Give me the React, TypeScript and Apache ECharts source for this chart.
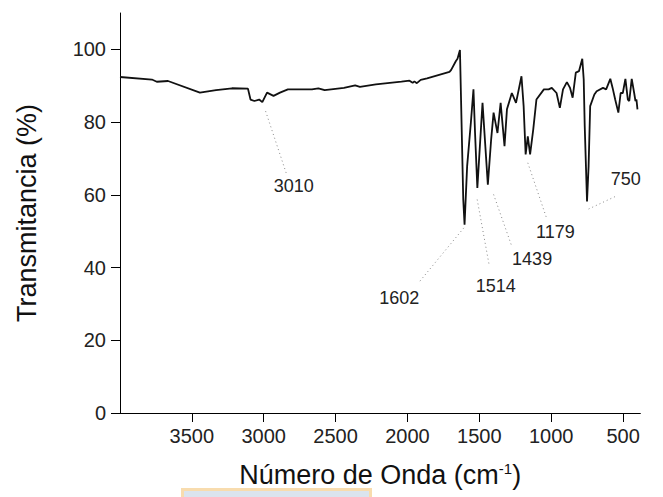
import React, { useEffect, useRef } from "react";
import * as echarts from "echarts";

// Wavenumber (cm-1) and transmittance (%)
const wavenumbers = [
  4000, 3778, 3744, 3666, 3444, 3332, 3221, 3110, 3092, 3065, 3032, 3010, 2977, 2932, 2887, 2832,
  2665, 2620, 2576, 2442, 2364, 2331, 2220, 2042, 1986, 1964, 1952, 1935, 1908, 1864, 1708, 1697,
  1663, 1652, 1635, 1612, 1603, 1585, 1559, 1541, 1530, 1514, 1478, 1441, 1418, 1401, 1381, 1374,
  1352, 1325, 1308, 1274, 1245, 1207, 1192, 1178, 1163, 1147, 1125, 1103, 1051, 1018, 996, 963,
  940, 918, 891, 869, 851, 829, 807, 784, 774, 767, 751, 740, 729, 700, 684, 640,
  618, 589, 573, 555, 533, 517, 502, 484, 467, 457, 440, 423, 414, 407, 400,
];
const transmittance = [
  92.4, 91.7, 91.1, 91.3, 88.1, 88.8, 89.3, 89.2, 86.2, 85.8, 86.2, 85.5, 88.1, 87.2, 88.1, 89.0,
  89.0, 89.3, 88.8, 89.4, 90.1, 89.7, 90.4, 91.1, 91.4, 90.8, 91.2, 90.7, 91.6, 92.0, 93.8, 94.3,
  96.8, 97.4, 99.8, 58.7, 51.8, 67.9, 79.9, 89.0, 77.0, 61.9, 85.3, 62.8, 75.2, 82.6, 78.4, 77.0,
  85.3, 73.4, 83.5, 88.0, 85.3, 92.6, 84.4, 71.1, 76.1, 71.1, 78.0, 86.2, 89.0, 89.0, 89.4, 88.0,
  83.9, 89.0, 91.0, 89.4, 86.7, 93.6, 94.0, 97.4, 91.7, 78.9, 58.2, 67.9, 84.4, 87.6, 88.5, 89.4,
  89.0, 91.9, 89.4, 86.2, 82.6, 88.0, 88.0, 91.9, 86.2, 85.8, 91.9, 88.0, 85.8, 86.2, 83.5,
];

const xTicks = [3500, 3000, 2500, 2000, 1500, 1000, 500];
const yTicks = [0, 20, 40, 60, 80, 100];

// Peak annotations: label, dotted leader start / end, text anchor (data coords)
const peakLabels = ["3010", "1602", "1514", "1439", "1179", "750"];
const peakFrom = [[2987, 83.0], [1608, 50.9], [1515, 58.7], [1401, 60.1], [1163, 68.8], [740, 56.1]];
const peakTo = [[2838, 65.3], [1917, 36.1], [1430, 40.3], [1274, 45.8], [1029, 53.2], [540, 59.8]];
const peakText = [[2792, 62.3], [2057, 31.7], [1386, 34.8], [1133, 42.3], [971, 49.9], [482, 64.4]];

const FONT = "'Liberation Sans', Arial, sans-serif";

export default function App() {
  const ref = useRef<HTMLDivElement>(null);

  useEffect(() => {
    document.body.style.margin = "0";
    if (!ref.current) return;
    const chart = echarts.init(ref.current, null, { renderer: "svg" });

    const spectrum = wavenumbers.map((w, i) => [w, transmittance[i]]);
    const leaders = peakLabels.map((_, i) => [
      { coord: peakFrom[i] },
      { coord: peakTo[i] },
    ]);
    const texts = peakLabels.map((l, i) => ({ name: l, value: peakText[i] }));

    chart.setOption({
      animation: false,
      backgroundColor: "#ffffff",
      textStyle: { fontFamily: FONT },
      grid: { left: 120, right: 1, top: 13, bottom: 84 },
      xAxis: {
        type: "value",
        inverse: true,
        min: 380,
        max: 4000,
        splitLine: { show: false },
        axisLine: { show: true, lineStyle: { color: "#000", width: 1 } },
        axisTick: { show: true, length: 9, customValues: xTicks, lineStyle: { color: "#000" } },
        axisLabel: {
          customValues: xTicks,
          fontSize: 20,
          color: "#222",
          margin: 13,
          fontFamily: FONT,
          formatter: (v: number) => String(v),
        },
        name: "Número de Onda (cm{sup|-1})",
        nameLocation: "middle",
        nameGap: 48,
        nameTextStyle: {
          fontSize: 27,
          color: "#111",
          fontFamily: FONT,
          rich: { sup: { fontSize: 15, verticalAlign: "top", lineHeight: 14, color: "#111", fontFamily: FONT } },
        },
      },
      yAxis: {
        type: "value",
        min: 0,
        max: 110,
        splitLine: { show: false },
        axisLine: { show: true, lineStyle: { color: "#000", width: 1 } },
        axisTick: { show: true, length: 9, customValues: yTicks, lineStyle: { color: "#000" } },
        axisLabel: {
          customValues: yTicks,
          fontSize: 20,
          color: "#222",
          margin: 14,
          fontFamily: FONT,
          formatter: (v: number) => String(v),
        },
        name: "Transmitancia (%)",
        nameLocation: "middle",
        nameGap: 80,
        nameTextStyle: { fontSize: 27, color: "#111", fontFamily: FONT },
      },
      graphic: [
        {
          type: "rect",
          left: 181,
          top: 488,
          shape: { width: 188, height: 14 },
          style: { fill: "#dbe4ee", stroke: "#f8dcae", lineWidth: 3 },
          silent: true,
        },
      ],
      series: [
        {
          type: "line",
          data: spectrum,
          showSymbol: false,
          symbol: "none",
          lineStyle: { color: "#111", width: 1.8 },
          silent: true,
          markLine: {
            silent: true,
            symbol: ["none", "none"],
            label: { show: false },
            lineStyle: { color: "#888", width: 1, type: [1, 3] },
            data: leaders,
          },
        },
        {
          type: "scatter",
          data: texts,
          symbol: "circle",
          symbolSize: 1,
          itemStyle: { color: "#ffffff", opacity: 1 },
          silent: true,
          label: {
            show: true,
            position: "inside",
            formatter: "{b}",
            fontSize: 18,
            color: "#222",
            opacity: 1,
            fontFamily: FONT,
          },
        },
      ],
    });

    return () => chart.dispose();
  }, []);

  return <div ref={ref} style={{ width: 663, height: 497 }} />;
}
